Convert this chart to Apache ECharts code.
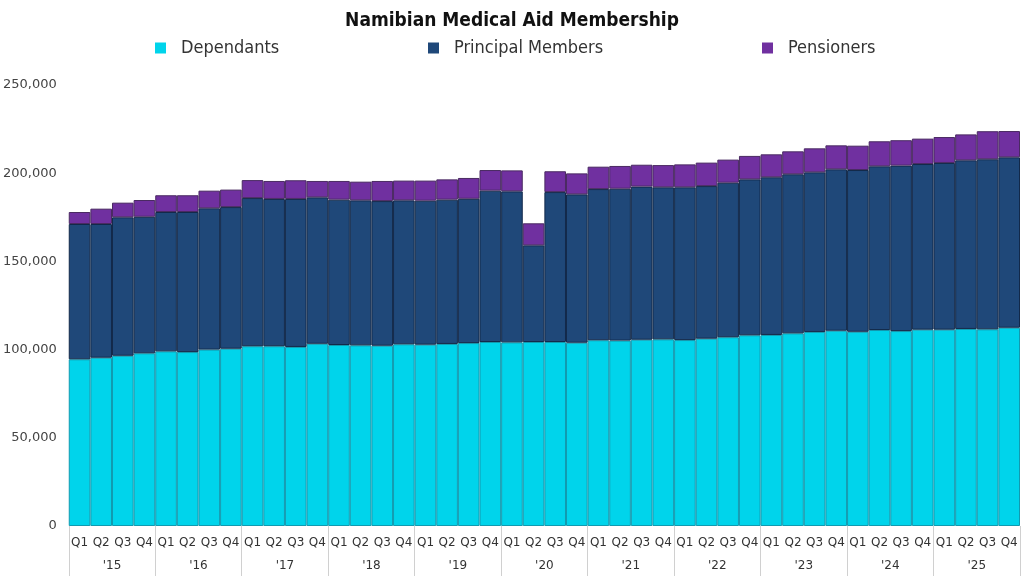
<!DOCTYPE html>
<html>
<head>
<meta charset="utf-8">
<script src="https://cdn.jsdelivr.net/npm/echarts@6/dist/echarts.min.js"></script>
<style>html,body{margin:0;padding:0;background:#fff}#c{width:1024px;height:576px}</style>
</head>
<body>
<div id="c"></div>
<script>
const quarters = ['Q1','Q2','Q3','Q4','Q1','Q2','Q3','Q4','Q1','Q2','Q3','Q4','Q1','Q2','Q3','Q4','Q1','Q2','Q3','Q4','Q1','Q2','Q3','Q4','Q1','Q2','Q3','Q4','Q1','Q2','Q3','Q4','Q1','Q2','Q3','Q4','Q1','Q2','Q3','Q4','Q1','Q2','Q3','Q4'];
const years = ["'15","'16","'17","'18","'19","'20","'21","'22","'23","'24","'25"];
const dependants = [94500,95400,96500,97900,99000,98600,100000,100500,101900,101900,101500,103300,102600,102400,102200,103000,102800,103200,103700,104300,104100,104300,104300,103900,105300,105100,105600,105800,105400,106200,107000,108100,108300,109200,110000,110700,110100,111100,110500,111300,111300,111700,111500,112400];
const principals = [76700,75800,78500,77400,79000,79400,80100,80300,84000,83500,83900,83000,82400,82200,82000,81600,81600,81800,81800,85800,85600,54800,85000,84100,85700,86100,86800,86200,86600,86500,87600,88400,89400,90200,90500,91500,91700,92800,93800,93900,94500,95600,96400,96600];
const pensioners = [6800,8700,8300,9500,9500,9500,10000,9900,10200,10200,10600,9300,10600,10600,11400,11200,11400,11500,11800,11700,11900,12500,11800,11900,12700,12900,12400,12600,13000,13300,13100,13300,13000,13000,13600,13600,13800,14200,14400,14400,14700,14700,15900,14900];

const chart = echarts.init(document.getElementById('c'), null, {renderer:'canvas'});
const narrow = "'Liberation Sans Narrow','DejaVu Sans Condensed',sans-serif";
const legendText = {fontFamily: narrow, fontSize: 18, color: '#333', padding: [0,0,0,10]};
const legendBase = {top: 34, itemWidth: 11, itemHeight: 11, icon: 'rect', textStyle: legendText,
  itemStyle: {borderWidth: 0}};
chart.setOption({
  animation: false,
  backgroundColor: '#fff',
  title: {
    text: 'Namibian Medical Aid Membership',
    left: 'center', top: 7,
    textStyle: {fontFamily: narrow, fontWeight: 'bold', fontSize: 19, color: '#111'}
  },
  legend: [
    Object.assign({data: ['Dependants'], left: 150}, legendBase),
    Object.assign({data: ['Principal Members'], left: 423}, legendBase),
    Object.assign({data: ['Pensioners'], left: 757}, legendBase)
  ],
  grid: {left: 65, right: 4, top: 85, bottom: 50, containLabel: false},
  xAxis: [
    {
      type: 'category', data: quarters, position: 'bottom',
      axisLine: {show: false}, axisTick: {show: false},
      axisLabel: {margin: 11, fontFamily: 'DejaVu Sans', fontSize: 12, color: '#333', interval: 0}
    },
    {
      type: 'category', data: years, position: 'bottom', gridIndex: 0,
      axisLine: {show: false},
      axisTick: {show: true, length: 50, lineStyle: {color: '#d0d0d0'}},
      axisLabel: {margin: 34, fontFamily: 'DejaVu Sans', fontSize: 12, color: '#333', interval: 0}
    }
  ],
  yAxis: {
    type: 'value', min: 0, max: 250000, interval: 50000,
    axisLine: {show: false}, axisTick: {show: false}, splitLine: {show: false},
    axisLabel: {
      margin: 12, fontFamily: 'DejaVu Sans', fontSize: 13, color: '#444',
      formatter: v => v.toLocaleString('en-US')
    }
  },
  series: [
    {name: 'Dependants', type: 'bar', stack: 't', data: dependants, barCategoryGap: 0, xAxisIndex: 0,
     itemStyle: {color: '#00D4EB', borderColor: '#119AB0', borderWidth: 1}},
    {name: 'Principal Members', type: 'bar', stack: 't', data: principals, barCategoryGap: 0, xAxisIndex: 0,
     itemStyle: {color: '#1F4879', borderColor: '#12294A', borderWidth: 1}},
    {name: 'Pensioners', type: 'bar', stack: 't', data: pensioners, barCategoryGap: 0, xAxisIndex: 0,
     itemStyle: {color: '#7030A0', borderColor: '#4A2A62', borderWidth: 1}}
  ]
});
</script>
</body>
</html>
